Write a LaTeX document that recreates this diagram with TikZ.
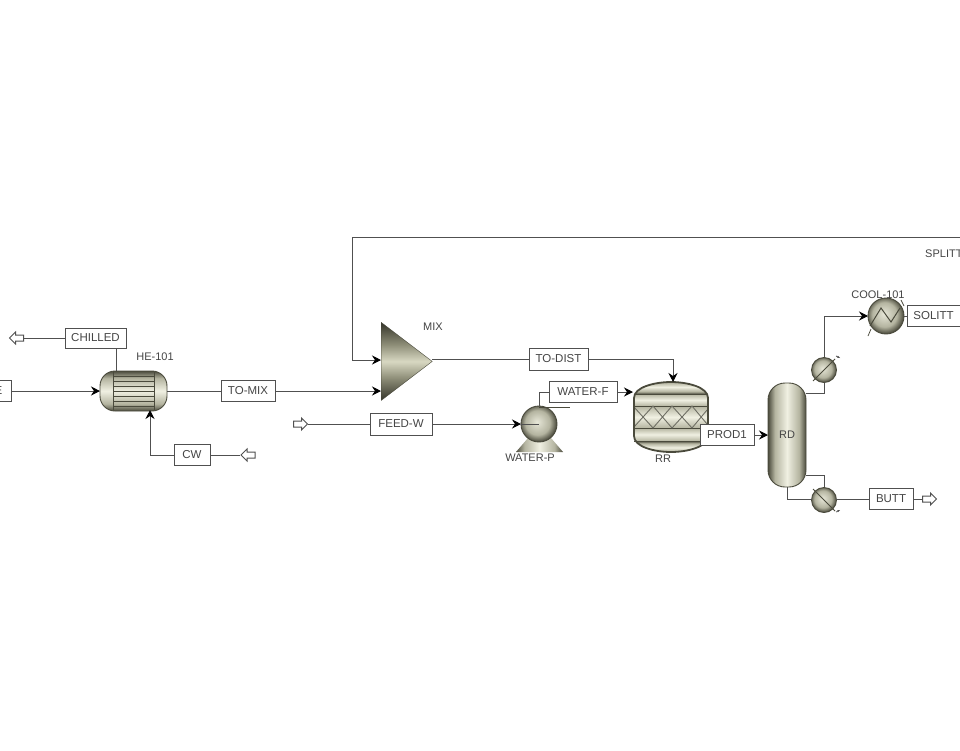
\documentclass[tikz,border=0pt]{standalone}
\usepackage{fontspec}
\setmainfont{Liberation Sans}
\usetikzlibrary{arrows.meta,shapes.geometric,shapes.arrows}
\definecolor{ln}{HTML}{505050}
\definecolor{txt}{HTML}{454545}
\definecolor{vdark}{HTML}{4A4A3C}
\definecolor{vmid}{HTML}{B4B4A0}
\definecolor{vlight}{HTML}{F0F0E2}
\definecolor{mixa}{HTML}{34342A}
\definecolor{mixb}{HTML}{8C8C76}
\definecolor{mixc}{HTML}{D8D8C2}
\pgfdeclarehorizontalshading{vesselH}{100bp}{color(0bp)=(vdark);color(25bp)=(vdark);color(34bp)=(vmid);color(50bp)=(vlight);color(66bp)=(vmid);color(75bp)=(vdark);color(100bp)=(vdark)}
\pgfdeclareverticalshading{vesselV}{100bp}{color(0bp)=(vdark);color(25bp)=(vdark);color(34bp)=(vmid);color(50bp)=(vlight);color(66bp)=(vmid);color(75bp)=(vdark);color(100bp)=(vdark)}
\pgfdeclareverticalshading{mixV}{100bp}{color(0bp)=(mixa);color(25bp)=(mixa);color(39bp)=(mixb);color(50bp)=(mixc);color(61bp)=(mixb);color(75bp)=(mixa);color(100bp)=(mixa)}
\pgfdeclareverticalshading{bandV}{100bp}{color(0bp)=(vmid);color(25bp)=(vmid);color(50bp)=(vlight);color(75bp)=(vmid);color(100bp)=(vmid)}
\pgfdeclareradialshading{ballR}{\pgfpoint{-3bp}{3bp}}{color(0bp)=(vlight!85!vmid);color(17bp)=(vmid);color(26bp)=(vdark);color(50bp)=(vdark)}
\tikzset{
  stream/.style={draw=ln,line width=1pt},
  flow/.style={stream,-{Stealth[length=9pt,width=9pt,inset=3pt,black]}},
  sbox/.style={draw=ln,line width=1pt,fill=white,inner sep=0pt,text=txt,font=\fontsize{11.5}{12}\selectfont},
  tag/.style={text=txt,inner sep=0pt,font=\fontsize{11}{12}\selectfont},
  openarrow/.style={single arrow,draw=ln,line width=1pt,fill=white,inner sep=2.5pt,minimum height=14pt,minimum width=11pt,single arrow head extend=3pt,single arrow head indent=0pt},
  hshade/.style={shading=vesselH},
  vshade/.style={shading=vesselV},
  ball/.style={circle,rim,shading=ballR,inner sep=0pt},
  rim/.style={draw=vdark,line width=0.9pt},
  inner/.style={draw=vdark,line width=0.9pt},
}
\begin{document}
\begin{tikzpicture}[x=1pt,y=-1pt]
\useasboundingbox (0,0) rectangle (960,750);
\fill[white] (0,0) rectangle (960,750);

% --- equipment ---
\node[rim,vshade,rounded corners=15pt,minimum width=67pt,minimum height=40pt,inner sep=0pt] (he) at (133.5,391) {};
\foreach \y in {376,381,386,391,396,401,406}{\draw[inner,line width=0.8pt] (113,\y) -- (154,\y);}
\draw[inner] (113,372) -- (113,410) (154,372) -- (154,410);

\node[isosceles triangle,isosceles triangle apex angle=75,isosceles triangle stretches,shape border rotate=0,minimum width=78pt,minimum height=51pt,inner sep=0pt,shading=mixV,draw=vdark,line width=0.4pt,anchor=left corner] (mix) at (381,322) {};

\shade[shading=vesselH] (516,452) -- (528,438) -- (551,438) -- (563,452) -- cycle;
\node[ball,minimum size=36pt] (pump) at (539,424) {};
\draw[inner,line width=0.7pt] (539,407) -- (570,407);

\begin{scope}
\clip (634,398) .. controls (634,387) and (655,382) .. (671,382) .. controls (687,382) and (708,387) .. (708,398) -- (708,436) .. controls (708,447) and (687,452) .. (671,452) .. controls (655,452) and (634,447) .. (634,436) -- cycle;
\shade[shading=vesselV] (634,380) rectangle (708,394);
\shade[shading=bandV] (634,394) rectangle (708,406);
\shade[shading=bandV] (634,406) rectangle (708,428);
\shade[shading=bandV] (634,428) rectangle (708,441);
\shade[shading=vesselV] (634,441) rectangle (708,454);
\end{scope}
\draw[inner] (634,394) -- (708,394) (634,441) -- (708,441) (634,406) -- (708,406) (634,428) -- (708,428);
\draw[inner,line width=0.9pt,draw=vdark!80] (634,407) -- (653,428) -- (672,406) -- (692,428) -- (707,410) (634,427) -- (653,406) -- (672,428) -- (692,406) -- (707,424);
\draw[draw=vdark,line width=1.8pt] (634,398) .. controls (634,387) and (655,382) .. (671,382) .. controls (687,382) and (708,387) .. (708,398) -- (708,436) .. controls (708,447) and (687,452) .. (671,452) .. controls (655,452) and (634,447) .. (634,436) -- cycle;
\node[minimum width=74pt,minimum height=70pt,inner sep=0pt] (rr) at (671,417) {};

\node[rim,hshade,rounded corners=17pt,minimum width=38pt,minimum height=104pt,inner sep=0pt,text=txt,font=\fontsize{11}{12}\selectfont] (rd) at (787,435) {RD};

\node[ball,minimum size=25pt] (cond) at (824,370) {};
\draw[inner] (813,381) -- (835,359);
\draw[ln,line width=0.7pt,-{Stealth[length=3pt]}] (836,356) -- (840,358);
\node[ball,minimum size=25pt] (reb) at (824,500) {};
\draw[inner] (813,489) -- (835,511);
\draw[ln,line width=0.7pt,-{Stealth[length=3pt]}] (836,512) -- (840,510);

\node[ball,minimum size=36pt] (cool) at (886,316) {};
\draw[inner,line width=1pt] (870,326) -- (881,308) -- (891,322) -- (900,308);
\draw[inner,line width=0.7pt] (868,336) -- (871,329) (901,300) -- (904,306);

% --- stream boxes ---
\node[sbox,minimum width=31pt,minimum height=21pt] (fe) at (-4.5,391) {};
\node[tag,font=\fontsize{11.5}{12}\selectfont] (felabel) at (-1.5,391) {E};
\node[sbox,minimum width=61pt,minimum height=20pt] (chilled) at (95.5,338) {CHILLED};
\node[sbox,minimum width=54pt,minimum height=21pt] (tomix) at (248,391) {TO-MIX};
\node[sbox,minimum width=36pt,minimum height=21pt] (cw) at (192,455) {CW};
\node[sbox,minimum width=62pt,minimum height=22pt] (feedw) at (401,424) {FEED-W};
\node[sbox,minimum width=59pt,minimum height=22pt] (todist) at (558.5,359) {TO-DIST};
\node[sbox,minimum width=68pt,minimum height=21pt] (waterf) at (583,392) {WATER-F};
\node[sbox,minimum width=54pt,minimum height=21pt] (prod1) at (727,435) {PROD1};
\node[sbox,minimum width=53pt,minimum height=21pt] (solitt) at (933.5,316) {SOLITT};
\node[sbox,minimum width=44pt,minimum height=21pt] (butt) at (891,499) {BUTT};

% --- open end arrows ---
\node[openarrow,shape border rotate=180] (pchilled) at (18,338) {};
\node[openarrow,shape border rotate=180] (pcw) at (249.5,455) {};
\node[openarrow] (pfeed) at (299,424) {};
\node[openarrow] (pbutt) at (928,499) {};

% --- text labels ---
\node[tag,anchor=center] (lhe) at (155,357) {HE-101};
\node[tag] (lmix) at (433,327) {MIX};
\node[tag] (lwp) at (530,458) {WATER-P};
\node[tag] (lrr) at (663,459) {RR};
\node[tag] (lcool) at (878,295) {COOL-101};
\node[tag,anchor=west] (lsplit) at (925,253.5) {SPLITT};

% --- free ends and junctions ---
\coordinate (heIn) at (100,391);
\coordinate (heOut) at (167,391);
\coordinate (heTop) at (116,371);
\coordinate (heBot) at (150,410);
\coordinate (mixA) at (381,360);
\coordinate (mixB) at (381,391);
\coordinate (mixOut) at (432,359);
\coordinate (rrTop) at (673,382);
\coordinate (rrIn) at (633,392);
\coordinate (rdIn) at (768,435);
\coordinate (recycle) at (960,237);
\coordinate (pumpIn) at (521,424);
\coordinate (condIn) at (806,393);
\coordinate (coolIn) at (868,316);
\coordinate (rebIn) at (806,475);
\coordinate (rebL) at (812,499);
\coordinate (rebR) at (836,499);

% --- connectors ---
\draw[flow] (fe.east) -- (heIn);
\draw[stream] (heTop) -- (heTop |- chilled.south);
\draw[stream] (chilled.west) -- (pchilled.east);
\draw[stream] (heOut) -- (tomix.west);
\draw[flow] (tomix.east) -- (mixB);
\draw[flow] (cw.west) -| (heBot);
\draw[stream] (cw.east) -- (pcw.west);
\draw[flow] (recycle) -| (352,360) -- (mixA);
\draw[stream] (mixOut) -- (todist.west);
\draw[flow] (todist.east) -| (rrTop);
\draw[stream] (pfeed.east) -- (feedw.west);
\draw[flow] (feedw.east) -- (pumpIn);
\draw[stream,line width=0.6pt] (pumpIn) -- (pump.center);
\draw[stream] (pump.north) |- (waterf.west);
\draw[flow] (waterf.east) -- (rrIn);
\draw[flow] (prod1.east) -- (rdIn);
\draw[stream] (condIn) -| (cond.south);
\draw[flow] (cond.north) |- (coolIn);
\draw[stream] (cool.east) -- (solitt.west);
\draw[stream] (rebIn) -| (reb.north);
\draw[stream] (rd.south) |- (rebL);
\draw[stream] (rebR) -- (butt.west);
\draw[stream] (butt.east) -- (pbutt.west);
\end{tikzpicture}
\end{document}
